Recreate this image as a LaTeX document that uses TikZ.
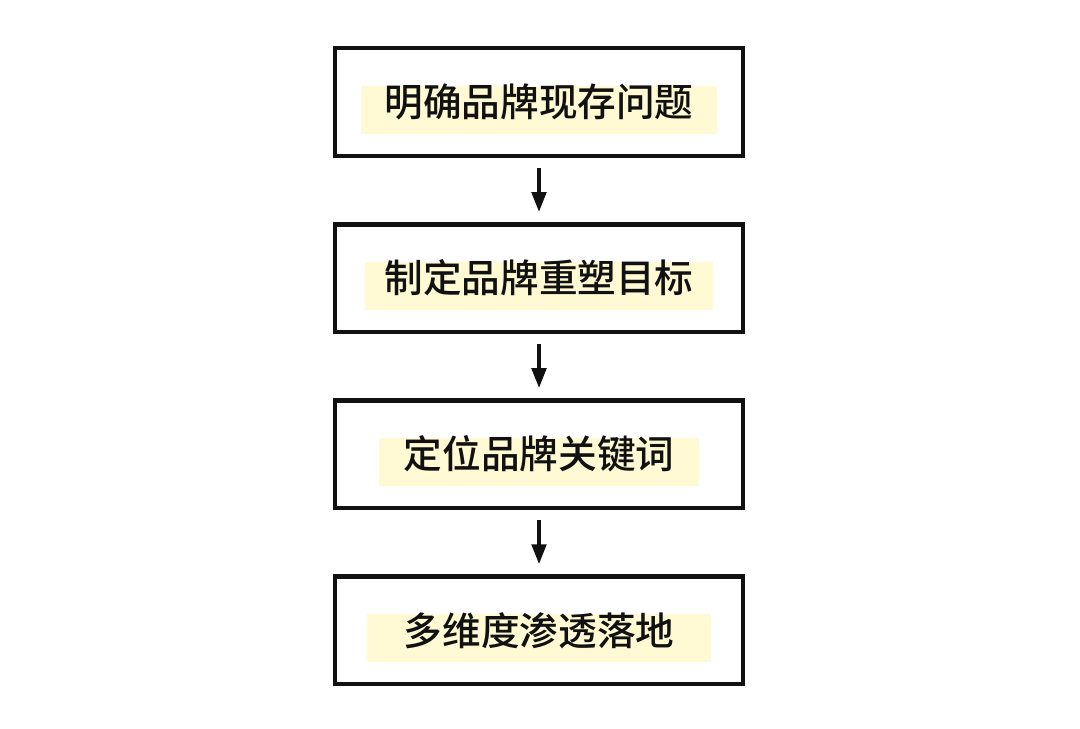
\documentclass[tikz,border=0pt]{standalone}
\usepackage{fontspec}
\newfontfamily\cjk{Noto Sans CJK SC Medium}
\usepackage{tikz}
\usetikzlibrary{arrows.meta,positioning,backgrounds}
\usepackage{xcolor}
\definecolor{inkblack}{RGB}{17,17,17}
\definecolor{hiliteyellow}{RGB}{255,250,212}

\begin{document}
\begin{tikzpicture}[
    stepbox/.style={rectangle, draw=inkblack, line width=3.2pt,
        minimum width=10.19cm, minimum height=2.69cm},
    steptext/.style={inner sep=0pt, text=inkblack,
        font=\cjk\fontsize{27.5pt}{32pt}\selectfont},
    hilite/.style={fill=hiliteyellow, inner sep=0pt, minimum height=1.2cm},
    >={Triangle[length=0.5cm,width=0.36cm]},
    node distance=1.6cm
]
\useasboundingbox (0,0) rectangle (27,-18.225);
\node[stepbox] (problem) at (13.475,-2.55) {};
\node[stepbox, below=of problem] (goal) {};
\node[stepbox, below=of goal] (keywords) {};
\node[stepbox, below=of keywords] (landing) {};
% yellow marks behind the words
\node[hilite, minimum width=8.9cm] (hproblem) at ([yshift=-0.2cm]problem.center) {};
\node[hilite, minimum width=8.7cm] (hgoal) at ([yshift=-0.2cm]goal.center) {};
\node[hilite, minimum width=8.0cm] (hkeywords) at ([yshift=-0.2cm]keywords.center) {};
\node[hilite, minimum width=8.6cm] (hlanding) at ([yshift=-0.2cm]landing.center) {};
\node[steptext] (tproblem) at (problem.center) {明确品牌现存问题};
\node[steptext] (tgoal) at (goal.center) {制定品牌重塑目标};
\node[steptext] (tkeywords) at (keywords.center) {定位品牌关键词};
\node[steptext] (tlanding) at (landing.center) {多维度渗透落地};
\draw[->, line width=2.8pt, draw=inkblack, shorten <=0.25cm, shorten >=0.25cm] (problem) -- (goal);
\draw[->, line width=2.8pt, draw=inkblack, shorten <=0.25cm, shorten >=0.25cm] (goal) -- (keywords);
\draw[->, line width=2.8pt, draw=inkblack, shorten <=0.25cm, shorten >=0.25cm] (keywords) -- (landing);
\end{tikzpicture}
\end{document}
